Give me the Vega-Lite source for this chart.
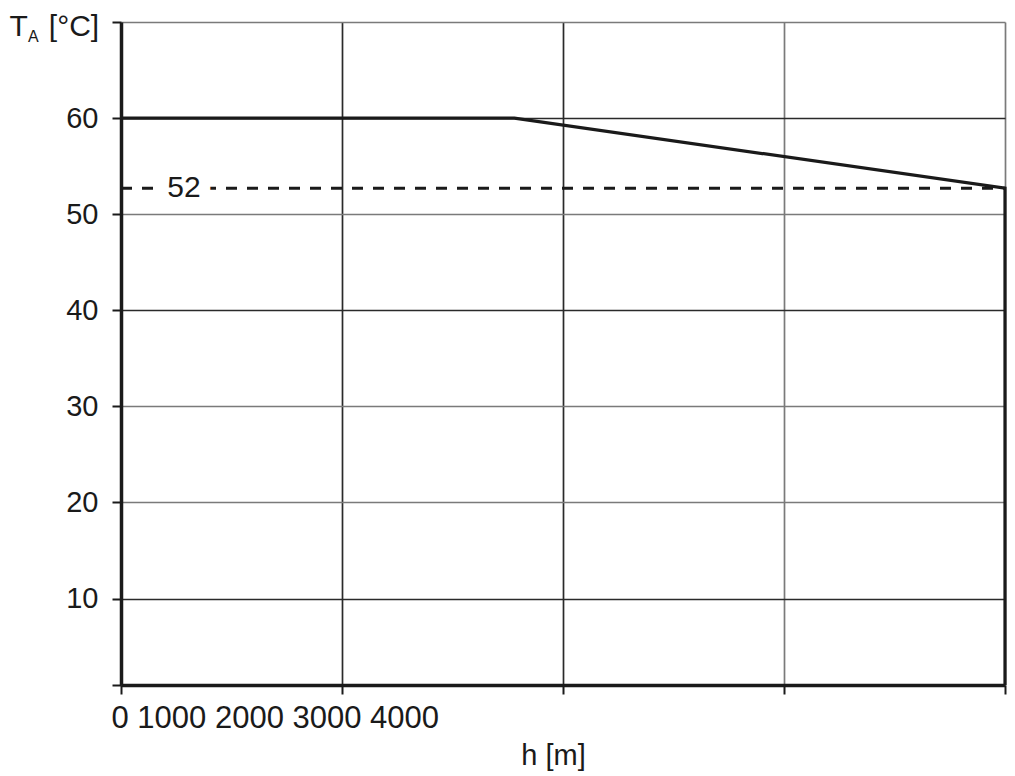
{
  "$schema": "https://vega.github.io/schema/vega-lite/v6.json",
  "width": 884,
  "height": 663,
  "autosize": "none",
  "padding": {"left": 121, "top": 22, "right": 10, "bottom": 91},
  "background": "white",
  "config": {"view": {"stroke": null}, "font": "Liberation Sans"},
  "title": {
    "text": "A",
    "anchor": "start",
    "frame": "group",
    "offset": 0,
    "dx": -93,
    "dy": 50,
    "baseline": "alphabetic",
    "fontSize": 16,
    "fontWeight": "normal",
    "color": "#1a1a1a",
    "font": "Liberation Sans"
  },
  "datasets": {
    "curve": [
      {"seq": 1, "h": 0, "T": 60},
      {"seq": 2, "h": 1780, "T": 60},
      {"seq": 3, "h": 4000, "T": 52.7},
      {"seq": 4, "h": 4000, "T": 1}
    ],
    "limit": [
      {"h": 0, "T": 52.7},
      {"h": 4000, "T": 52.7}
    ],
    "note": [
      {"h": 285, "T": 52.7, "label": "52"}
    ]
  },
  "encoding": {
    "x": {
      "field": "h",
      "type": "quantitative",
      "scale": {"domain": [0, 4000], "nice": false, "zero": false},
      "axis": {
        "title": "h [m]",
        "values": [0, 1000, 2000, 3000, 4000],
        "labelExpr": "datum.value == 0 ? '0 1000 2000 3000 4000' : ''",
        "labelAlign": "left",
        "labelOffset": -10,
        "labelLimit": 500,
        "labelFontSize": 31,
        "labelColor": "#1a1a1a",
        "labelPadding": 9,
        "labelFlush": false,
        "labelOverlap": false,
        "tickSize": 9,
        "tickWidth": 2,
        "tickColor": "#1a1a1a",
        "domainColor": "#1a1a1a",
        "domainWidth": 3.5,
        "grid": true,
        "gridColor": {"condition": {"test": "datum.value == 1000 || datum.value == 2000", "value": "#2a2a2a"}, "value": "#7a7a7a"},
        "gridWidth": 1.7,
        "titleFontSize": 29,
        "titleFontWeight": "normal",
        "titleColor": "#1a1a1a",
        "titleAlign": "center",
        "titleBaseline": "alphabetic",
        "titleX": 432,
        "titleY": 79
      }
    },
    "y": {
      "field": "T",
      "type": "quantitative",
      "scale": {"domain": [1, 70], "nice": false, "zero": false},
      "axis": {
        "title": "T\u2002\u2009[°C]",
        "values": [1, 10, 20, 30, 40, 50, 60, 70],
        "labelExpr": "datum.value >= 10 && datum.value <= 60 ? datum.label : ''",
        "labelFontSize": 29,
        "labelColor": "#1a1a1a",
        "labelPadding": 14,
        "labelOverlap": false,
        "tickSize": 9,
        "tickWidth": 2,
        "tickColor": "#1a1a1a",
        "domainColor": "#1a1a1a",
        "domainWidth": 3.5,
        "grid": true,
        "gridColor": {"condition": {"test": "datum.value == 10 || datum.value == 40 || datum.value == 60", "value": "#2a2a2a"}, "value": "#7a7a7a"},
        "gridWidth": 1.7,
        "titleFontSize": 30,
        "titleFontWeight": "normal",
        "titleColor": "#1a1a1a",
        "titleAngle": 0,
        "titleAlign": "left",
        "titleBaseline": "alphabetic",
        "titleX": -112,
        "titleY": 13
      }
    }
  },
  "layer": [
    {
      "data": {"name": "limit"},
      "mark": {"type": "line", "color": "#1a1a1a", "strokeWidth": 2.8, "strokeDash": [11, 10]}
    },
    {
      "data": {"name": "note"},
      "mark": {"type": "text", "fontSize": 30, "fill": "white", "stroke": "white", "strokeWidth": 22, "baseline": "middle", "align": "center"},
      "encoding": {"text": {"field": "label"}}
    },
    {
      "data": {"name": "note"},
      "mark": {"type": "text", "fontSize": 30, "color": "#1a1a1a", "baseline": "middle", "align": "center"},
      "encoding": {"text": {"field": "label"}}
    },
    {
      "data": {"name": "curve"},
      "mark": {"type": "line", "color": "#1a1a1a", "strokeWidth": 3.2, "strokeJoin": "miter"},
      "encoding": {"order": {"field": "seq"}}
    }
  ]
}
